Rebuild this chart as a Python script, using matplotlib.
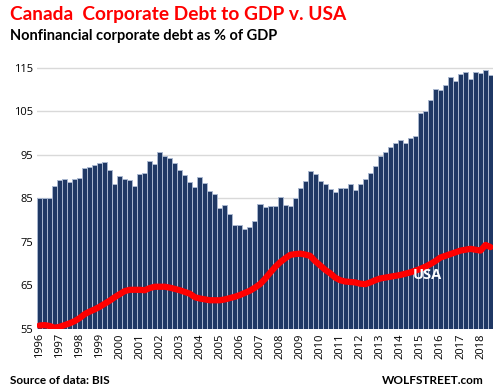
import matplotlib.pyplot as plt
import numpy as np

years = list(range(1996, 2019))

# Canada nonfinancial corporate debt, % of GDP, quarterly 1996Q1..2018Q3
canada = [
    85.1, 85.1, 85.1, 87.8,
    89.1, 89.5, 88.8, 89.5,
    89.7, 92.0, 92.3, 92.7,
    93.2, 93.4, 91.6, 88.3,
    90.2, 89.5, 89.3, 87.9,
    90.6, 90.9, 93.6, 92.9,
    95.7, 94.8, 94.3, 93.2,
    91.6, 90.4, 88.8, 87.6,
    90.0, 88.6, 86.7, 86.0,
    82.8, 83.5, 81.4, 78.9,
    78.9, 78.0, 78.4, 79.8,
    83.7, 83.0, 83.3, 83.3,
    85.3, 83.5, 83.3, 85.1,
    87.4, 89.0, 91.3, 90.6,
    89.0, 88.3, 87.2, 86.5,
    87.4, 87.4, 88.3, 87.0,
    88.3, 89.4, 90.8, 92.5,
    94.8, 95.6, 96.8, 97.7,
    98.4, 97.7, 98.8, 99.4,
    104.6, 105.1, 107.5, 110.2,
    109.9, 111.1, 112.9, 112.0,
    113.6, 114.1, 112.4, 114.1,
    113.7, 114.4, 113.2,
]

# USA nonfinancial corporate debt, % of GDP, same quarters
usa = [
    55.8, 55.9, 55.7, 55.3,
    55.5, 55.9, 56.3, 56.8,
    57.5, 58.4, 59.0, 59.5,
    60.1, 60.8, 61.5, 62.3,
    63.0, 63.7, 64.0, 64.0,
    64.0, 63.9, 64.4, 64.7,
    64.7, 64.7, 64.5, 64.2,
    63.9, 63.5, 63.1, 62.3,
    62.0, 61.8, 61.6, 61.6,
    61.6, 61.8, 62.1, 62.4,
    62.8, 63.3, 63.8, 64.5,
    65.3, 66.5, 67.9, 69.2,
    70.3, 71.2, 72.0, 72.2,
    72.3, 72.1, 71.8, 70.6,
    69.6, 68.6, 67.8, 66.8,
    66.2, 65.9, 65.8, 65.7,
    65.4, 65.3, 65.7, 66.2,
    66.6, 66.8, 67.0, 67.2,
    67.4, 67.7, 68.0, 68.4,
    68.8, 69.3, 69.9, 70.6,
    71.4, 71.8, 72.2, 72.6,
    73.0, 73.2, 73.4, 73.2,
    73.0, 74.3, 73.8,
]

y_ticks = [55, 65, 75, 85, 95, 105, 115]

x = np.arange(len(canada))

fig = plt.figure(figsize=(4.98, 3.92), dpi=100)
ax = fig.add_axes([0.0743, 0.1607, 0.9157, 0.7223])

ax.bar(x, [v - 55 for v in canada], bottom=55, width=1.0,
       color="#1f3864", edgecolor="#a9b7cf", linewidth=0.7, zorder=2)
ax.plot(x, usa, color="#ff0000", linewidth=4.5, solid_capstyle="round", zorder=3)

ax.set_xlim(-0.5, len(canada) - 0.5)
ax.set_ylim(55, 120)
ax.set_yticks(y_ticks)
ax.set_yticklabels([str(t) for t in y_ticks], fontsize=8, family="Open Sans")
ax.set_xticks([4 * i for i in range(len(years))])
ax.set_xticklabels([str(y) for y in years], rotation=90, fontsize=8, family="Open Sans")
ax.tick_params(length=0, pad=3)
ax.grid(axis="y", color="#d9d9d9", linewidth=1, zorder=0)
ax.set_axisbelow(True)
for s in ax.spines.values():
    s.set_visible(False)

ax.text(77.5, 67.5, "USA", color="white", fontsize=10.5, fontweight="bold",
        family="Open Sans", ha="center", va="center", zorder=4)

fig.text(0.02, 0.962, "Canada  Corporate Debt to GDP v. USA", color="#ff0000",
         fontsize=13.8, fontweight="bold", family="Lato", va="center")
fig.text(0.02, 0.908, "Nonfinancial corporate debt as % of GDP", color="black",
         fontsize=10.5, fontweight="bold", family="Lato", va="center")
fig.text(0.02, 0.03, "Source of data: BIS", color="black",
         fontsize=8.5, fontweight="bold", family="Lato", va="center")
fig.text(0.972, 0.03, "WOLFSTREET.com", color="black",
         fontsize=8.5, fontweight="bold", family="Lato", va="center", ha="right")

fig.savefig("out.png", dpi=100)
